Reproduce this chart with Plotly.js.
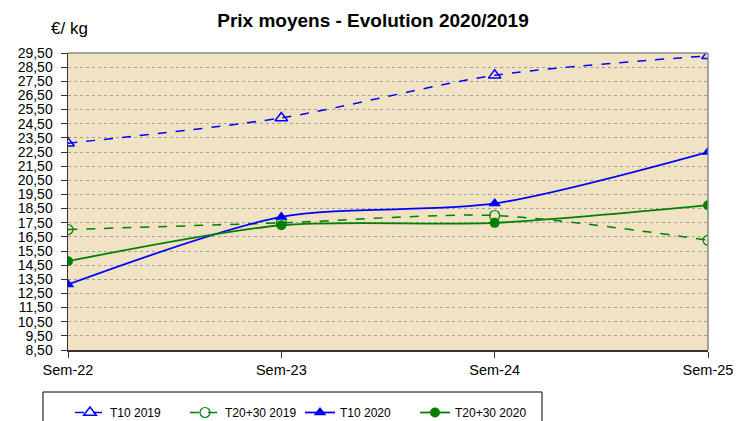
<!DOCTYPE html>
<html>
<head>
<meta charset="utf-8">
<script src="https://cdn.plot.ly/plotly-3.0.1.min.js"></script>
<style>html,body{margin:0;padding:0;background:#fff;}#chart{width:737px;height:421px;}</style>
</head>
<body>
<div id="chart"></div>
<script>
var categories = ["Sem-22", "Sem-23", "Sem-24", "Sem-25"];
var t10_2019 = [23.12, 24.91, 27.92, 29.30];
var t2030_2019 = [17.02, 17.49, 18.01, 16.26];
var t10_2020 = [13.13, 17.91, 18.86, 22.50];
var t2030_2020 = [14.78, 17.32, 17.49, 18.74];

var FONT = "Liberation Sans, Arial, sans-serif";
var traces = [
  {name: "T10 2019", x: categories, y: t10_2019, mode: "lines+markers",
   line: {color: "#0000ff", width: 1.5, dash: "dash", shape: "spline", smoothing: 0.8},
   marker: {symbol: "triangle-up-open", size: 11, color: "#0000ff", line: {width: 1.5, color: "#0000ff"}}},
  {name: "T20+30 2019", x: categories, y: t2030_2019, mode: "lines+markers",
   line: {color: "#008000", width: 1.5, dash: "dash", shape: "spline", smoothing: 0.8},
   marker: {symbol: "circle-open", size: 10, color: "#008000", line: {width: 1.2, color: "#008000"}}},
  {name: "T10 2020", x: categories, y: t10_2020, mode: "lines+markers",
   line: {color: "#0000ff", width: 1.8, shape: "spline", smoothing: 0.8},
   marker: {symbol: "triangle-up", size: 11, color: "#0000ff"}},
  {name: "T20+30 2020", x: categories, y: t2030_2020, mode: "lines+markers",
   line: {color: "#008000", width: 1.8, shape: "spline", smoothing: 0.8},
   marker: {symbol: "circle", size: 10, color: "#008000"}}
];

var layout = {
  width: 737, height: 421,
  margin: {l: 68, r: 29, t: 53, b: 71, autoexpand: false},
  paper_bgcolor: "#ffffff",
  plot_bgcolor: "#f0e2c2",
  separators: ",.",
  font: {family: FONT, size: 13, color: "#000"},
  title: {text: "<b>Prix moyens - Evolution 2020/2019</b>", font: {family: FONT, size: 19, color: "#000"},
          x: 373/737, xanchor: "center", y: 1 - 20/421, yanchor: "middle"},
  xaxis: {type: "category", range: [0, 3], showgrid: false, zeroline: false,
          showline: true, linecolor: "#333", linewidth: 1.5, mirror: false,
          ticks: "outside", ticklen: 6, tickcolor: "#333",
          tickfont: {family: FONT, size: 14.5}, fixedrange: true},
  yaxis: {range: [8.5, 29.5], tick0: 8.5, dtick: 1, tickformat: ".2f",
          showgrid: true, gridcolor: "#a0a0a0", griddash: "dot", gridwidth: 1,
          zeroline: false, showline: true, linecolor: "#333", linewidth: 1.5,
          ticks: "outside", ticklen: 6, tickcolor: "#333", ticklabelstandoff: 5,
          tickfont: {family: FONT, size: 14}, fixedrange: true},
  shapes: [
    {type: "line", xref: "paper", yref: "paper", x0: 0, x1: 1, y0: 1, y1: 1, line: {color: "#888", width: 1.5}},
    {type: "line", xref: "paper", yref: "paper", x0: 1, x1: 1, y0: 0, y1: 1, line: {color: "#888", width: 1.5}},
    {type: "rect", xref: "paper", yref: "paper", x0: (43 - 68) / 640, x1: (542 - 68) / 640,
     y0: -(430 - 350) / 297, y1: -(392 - 350) / 297, line: {color: "#000", width: 1}, fillcolor: "rgba(0,0,0,0)"}
  ],
  annotations: [
    {text: "€/ kg", xref: "paper", yref: "paper", x: (69 - 68) / 640, y: 1 + (53 - 28) / 297,
     xanchor: "center", yanchor: "middle", showarrow: false, font: {family: FONT, size: 17}}
  ],
  legend: {orientation: "h", x: (70 - 68) / 640, xanchor: "left", y: -(398 - 350) / 297, yanchor: "top",
           bgcolor: "rgba(0,0,0,0)", borderwidth: 0,
           font: {family: FONT, size: 12}, entrywidth: 70, entrywidthmode: "pixels",
           itemwidth: 30, tracegroupgap: 0},
  showlegend: true
};

Plotly.newPlot("chart", traces, layout, {displayModeBar: false, staticPlot: true});
</script>
</body>
</html>
